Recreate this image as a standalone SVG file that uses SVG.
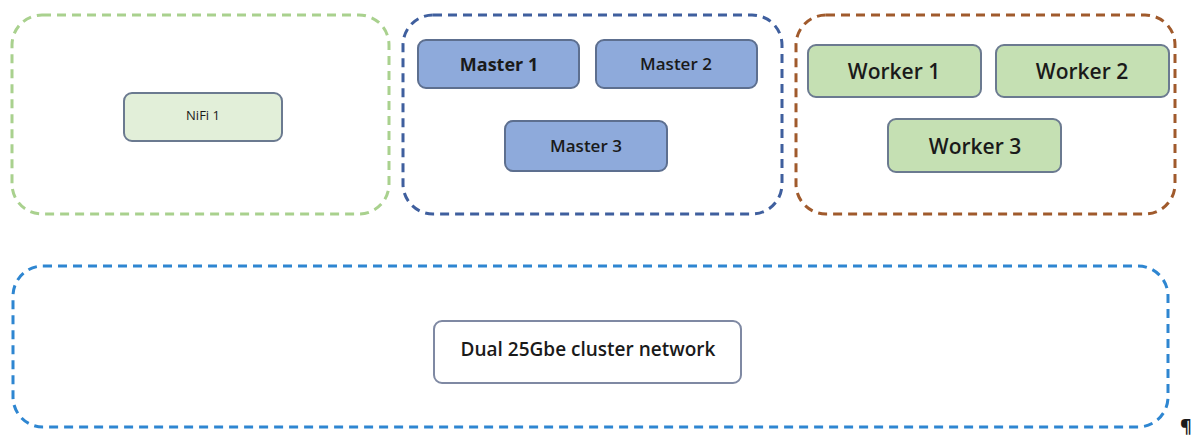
<svg xmlns="http://www.w3.org/2000/svg" width="1193" height="441" viewBox="0 0 1193 441">
<style>
.grp{fill:none;stroke-width:3;stroke-dasharray:9 6}
.node{stroke-width:2}
text{font-family:"Open Sans","Liberation Sans",sans-serif;text-anchor:middle;dominant-baseline:central;fill:#1a1a1a}
</style>
<rect width="1193" height="441" fill="#ffffff"/>
<g id="nifi-group"><rect class="grp" x="12" y="15" width="377" height="199" rx="30" stroke="#a9d18e"/></g>
<g id="master-group"><rect class="grp" x="403" y="15" width="379" height="199" rx="30" stroke="#3f5f9e"/></g>
<g id="worker-group"><rect class="grp" x="796" y="15" width="379" height="199" rx="30" stroke="#a05a2c"/></g>
<g id="network-group"><rect class="grp" x="13" y="266" width="1155" height="161" rx="30" stroke="#2e86d1"/></g>
<g id="nifi1"><rect class="node" x="124" y="93" width="158" height="48" rx="8" fill="#e2efd9" stroke="#6b7a90"/><text x="203" y="115" font-size="13" fill="#333333">NiFi 1</text></g>
<g id="master1"><rect class="node" x="418" y="40" width="161" height="48" rx="8" fill="#8eaadb" stroke="#5d6f8f"/><text x="499" y="64" font-size="18" font-weight="bold">Master 1</text></g>
<g id="master2"><rect class="node" x="596" y="40" width="161" height="48" rx="8" fill="#8eaadb" stroke="#5d6f8f"/><text x="676" y="63" font-size="17" font-weight="600">Master 2</text></g>
<g id="master3"><rect class="node" x="505" y="121" width="162" height="50" rx="8" fill="#8eaadb" stroke="#5d6f8f"/><text x="586" y="145" font-size="17" font-weight="600">Master 3</text></g>
<g id="worker1"><rect class="node" x="808" y="45" width="173" height="52" rx="8" fill="#c5e0b3" stroke="#6b7a90"/><text x="894" y="71" font-size="21" font-weight="600">Worker 1</text></g>
<g id="worker2"><rect class="node" x="996" y="45" width="173" height="52" rx="8" fill="#c5e0b3" stroke="#6b7a90"/><text x="1082" y="71" font-size="21" font-weight="600">Worker 2</text></g>
<g id="worker3"><rect class="node" x="888" y="119" width="173" height="53" rx="8" fill="#c5e0b3" stroke="#6b7a90"/><text x="975" y="146" font-size="21" font-weight="600">Worker 3</text></g>
<g id="network"><rect class="node" x="434" y="321" width="307" height="62" rx="8" fill="#ffffff" stroke="#7f89a3"/><text x="588" y="349" font-size="19" font-weight="600">Dual 25Gbe cluster network</text></g>
<g id="connectors"></g>
<text x="1180" y="426" font-size="18" font-weight="bold" fill="#000000" style="text-anchor:start">¶</text>
</svg>
